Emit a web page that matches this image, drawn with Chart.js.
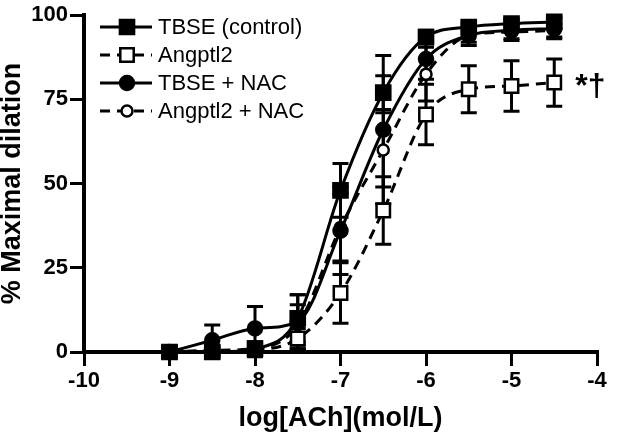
<!DOCTYPE html>
<html>
<head>
<meta charset="utf-8">
<script src="https://cdn.jsdelivr.net/npm/chart.js@4"></script>
<style>
  html, body { margin: 0; padding: 0; background: #fff; }
  #wrap { width: 619px; height: 433px; }
</style>
</head>
<body>
<div id="wrap"><canvas id="chart" width="619" height="433"></canvas></div>
<script>
// log[ACh] concentrations
const xValues = [-9, -8.5, -8, -7.5, -7, -6.5, -6, -5.5, -5, -4.5];

// % maximal dilation (mean) and error
const tbse = [0, 0, 1, 10, 48, 77, 93.5, 96.5, 97.5, 98];
const tbseErr = [1.5, 1.5, 2, 7, 8, 5, 2, 1.5, 1.5, 1.5];
const angptl2 = [0, 0, 0.5, 4, 17.5, 42, 70.5, 78, 79, 80];
const angptl2Err = [1, 1, 1.5, 3, 9, 10, 9, 7, 7.5, 7];
const tbseNac = [0, 3.5, 7, 9, 36, 66, 87, 94, 95.5, 96];
const tbseNacErr = [1, 4.5, 6.5, 8, 13, 22, 6, 3, 3, 3];
const angptl2Nac = [0, 0.5, 1, 8, 37, 60, 82.5, 94, 95, 95.5];
const angptl2NacErr = [1, 1, 2, 6, 10, 11, 8, 2, 2, 2];

const xTicks = [-10, -9, -8, -7, -6, -5, -4];
const yTicks = [0, 25, 50, 75, 100];

const FONT = '"Liberation Sans", Arial, sans-serif';

const seriesList = [
    { name: 'TBSE (control)', values: tbse, errors: tbseErr, dashed: false, style: 'rect', radius: 10, filled: true },
    { name: 'Angptl2', values: angptl2, errors: angptl2Err, dashed: true, style: 'rect', radius: 9.5, filled: false },
    { name: 'TBSE + NAC', values: tbseNac, errors: tbseNacErr, dashed: false, style: 'circle', radius: 7, filled: true },
    { name: 'Angptl2 + NAC', values: angptl2Nac, errors: angptl2NacErr, dashed: true, style: 'circle', radius: 5.5, filled: false }
];

// Error bars under the markers
const errorBars = {
    id: 'errorBars',
    beforeDatasetsDraw(chart) {
        const { ctx, scales: { x, y } } = chart;
        ctx.save();
        ctx.strokeStyle = '#000';
        ctx.lineWidth = 3;
        seriesList.forEach(s => {
            xValues.forEach((v, i) => {
                const px = x.getPixelForValue(v);
                const top = y.getPixelForValue(s.values[i] + s.errors[i]);
                const bot = y.getPixelForValue(s.values[i] - s.errors[i]);
                ctx.beginPath();
                ctx.moveTo(px, top);
                ctx.lineTo(px, bot);
                ctx.moveTo(px - 8, top);
                ctx.lineTo(px + 8, top);
                ctx.moveTo(px - 8, bot);
                ctx.lineTo(px + 8, bot);
                ctx.stroke();
            });
        });
        ctx.restore();
    }
};

function drawMarker(ctx, s, cx, cy) {
    ctx.save();
    ctx.lineWidth = 2.5;
    ctx.strokeStyle = '#000';
    ctx.fillStyle = s.filled ? '#000' : '#fff';
    ctx.beginPath();
    if (s.style === 'rect') {
        const h = s.radius * Math.SQRT1_2;
        ctx.rect(cx - h, cy - h, 2 * h, 2 * h);
    } else {
        ctx.arc(cx, cy, s.radius, 0, Math.PI * 2);
    }
    ctx.fill();
    ctx.stroke();
    ctx.restore();
}

// Legend in the top-left corner and the significance marks
const customLegend = {
    id: 'customLegend',
    afterDraw(chart) {
        const { ctx, scales: { x, y } } = chart;
        const rows = [27, 55, 83, 111];
        ctx.save();
        seriesList.forEach((s, i) => {
            const ry = rows[i];
            ctx.strokeStyle = '#000';
            ctx.lineWidth = 3;
            ctx.setLineDash(s.dashed ? [10, 7] : []);
            ctx.beginPath();
            ctx.moveTo(100, ry);
            ctx.lineTo(152, ry);
            ctx.stroke();
            ctx.setLineDash([]);
            drawMarker(ctx, s, 127, ry);
            ctx.fillStyle = '#000';
            ctx.font = '22px ' + FONT;
            ctx.textBaseline = 'middle';
            ctx.textAlign = 'left';
            ctx.fillText(s.name, 158, ry + 1);
        });
        // *† next to the last Angptl2 point
        const last = angptl2.length - 1;
        ctx.font = 'bold 32px ' + FONT;
        ctx.textBaseline = 'middle';
        ctx.fillText('*\u2020', x.getPixelForValue(xValues[last]) + 21, y.getPixelForValue(angptl2[last]) + 5);
        ctx.restore();
    }
};

const datasets = seriesList.map(s => ({
    label: s.name,
    data: xValues.map((v, i) => ({ x: v, y: s.values[i] })),
    borderColor: '#000',
    borderWidth: 3,
    borderDash: s.dashed ? [10, 7] : [],
    cubicInterpolationMode: 'monotone',
    pointStyle: s.style,
    pointRadius: s.radius,
    pointBorderWidth: 2.5,
    pointBorderColor: '#000',
    pointBackgroundColor: s.filled ? '#000' : '#fff',
    fill: false,
    clip: false
}));

new Chart(document.getElementById('chart'), {
    type: 'line',
    data: { datasets },
    options: {
        responsive: false,
        animation: false,
        layout: { padding: { top: 10, right: 22, left: 0, bottom: 0 } },
        plugins: {
            legend: { display: false },
            tooltip: { enabled: false }
        },
        scales: {
            x: {
                type: 'linear',
                min: -10,
                max: -4,
                afterFit(scale) { scale.height = 81; },
                afterBuildTicks(scale) { scale.ticks = xTicks.map(v => ({ value: v })); },
                grid: { drawOnChartArea: false, color: '#000', lineWidth: 3, tickLength: 14 },
                border: { color: '#000', width: 4 },
                ticks: {
                    color: '#000',
                    padding: 2,
                    font: { family: FONT, size: 22, weight: 'bold' },
                    callback: v => String(v)
                },
                title: {
                    display: true,
                    text: 'log[ACh](mol/L)',
                    color: '#000',
                    padding: { top: 1, bottom: 1 },
                    font: { family: FONT, size: 27, weight: 'bold', lineHeight: 1 }
                }
            },
            y: {
                min: 0,
                max: 100,
                afterFit(scale) { scale.width = 84; },
                afterBuildTicks(scale) { scale.ticks = yTicks.map(v => ({ value: v })); },
                grid: { drawOnChartArea: false, color: '#000', lineWidth: 3, tickLength: 14 },
                border: { color: '#000', width: 4 },
                ticks: {
                    color: '#000',
                    padding: 2,
                    font: { family: FONT, size: 22, weight: 'bold' },
                    callback: v => String(v)
                },
                title: {
                    display: true,
                    text: '% Maximal dilation',
                    color: '#000',
                    padding: 0,
                    font: { family: FONT, size: 27, weight: 'bold', lineHeight: 0.9 }
                }
            }
        }
    },
    plugins: [errorBars, customLegend]
});
</script>
</body>
</html>
